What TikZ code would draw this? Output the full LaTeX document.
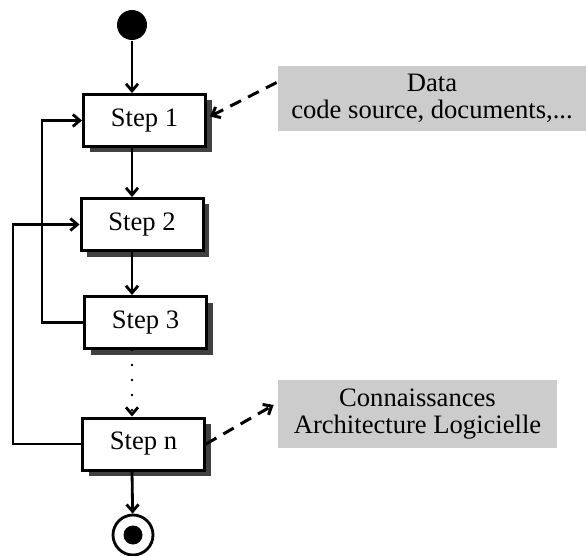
\documentclass[tikz,border=0pt]{standalone}
\usepackage{fontspec}
\setmainfont{Liberation Serif}
\usetikzlibrary{arrows.meta,shadows}

\begin{document}
\begin{tikzpicture}[x=1pt, y=-1pt, >={Straight Barb[length=7pt,width=12pt]}, line width=2.8pt,
    every node/.style={font=\fontsize{26.6}{27}\selectfont},
    stepbox/.style={draw, fill=white, line width=3pt, minimum width=122pt, minimum height=52pt, inner sep=0pt,
      drop shadow={shadow xshift=6pt, shadow yshift=-6pt, fill=black!75, opacity=1}},
    notebox/.style={fill=black!20, inner sep=0pt, align=center}]
    \useasboundingbox (0,0) rectangle (586,556);

    % debut et fin
    \node[circle, fill, inner sep=0pt, minimum size=30pt] (start) at (132,25) {};
    \node[circle, draw, inner sep=0pt, minimum size=40pt] (stop) at (133,535) {};
    \node[circle, fill, inner sep=0pt, minimum size=19pt] (stopdot) at (stop) {};

    % les etapes
    \node[stepbox] (s1) at (144.5,120.5) {Step 1};
    \node[stepbox] (s2) at (142,224.5) {Step 2};
    \node[stepbox] (s3) at (145.5,322.5) {Step 3};
    \node[stepbox] (sn) at (143.5,444) {Step n};

    % entree et sortie
    \node[notebox, minimum width=308pt, minimum height=65pt] (data) at (432,98.5) {Data\\code source, documents,...};
    \node[notebox, minimum width=279pt, minimum height=68pt] (know) at (417.5,414) {Connaissances\\Architecture Logicielle};

    % enchainement
    \draw[->] (start) -- (s1.north -| start);
    \draw[->] (s1.south -| start) -- (s2.north -| start);
    \draw[->] (s2.south -| start) -- (s3.north -| start);
    \draw[->, line cap=round, dash pattern=on 0pt off 15pt] (s3.south -| start) -- (sn.north -| start);
    \draw[->] (sn.south -| start) -- (stop);

    % retours
    \draw[->] (s3.west) -- ++(-41,0) |- (s1.west);
    \draw[->] (sn.west) -- ++(-68,0) |- (s2.west);

    % liens en pointilles
    \draw[->, dash pattern=on 12pt off 8pt, line width=3pt] ([yshift=16pt]data.west) -- ([xshift=3pt,yshift=4pt]s1.east);
    \draw[->, dash pattern=on 12pt off 8pt, line width=3pt] (sn.east) -- ([xshift=-3pt,yshift=9pt]know.west);
\end{tikzpicture}
\end{document}
